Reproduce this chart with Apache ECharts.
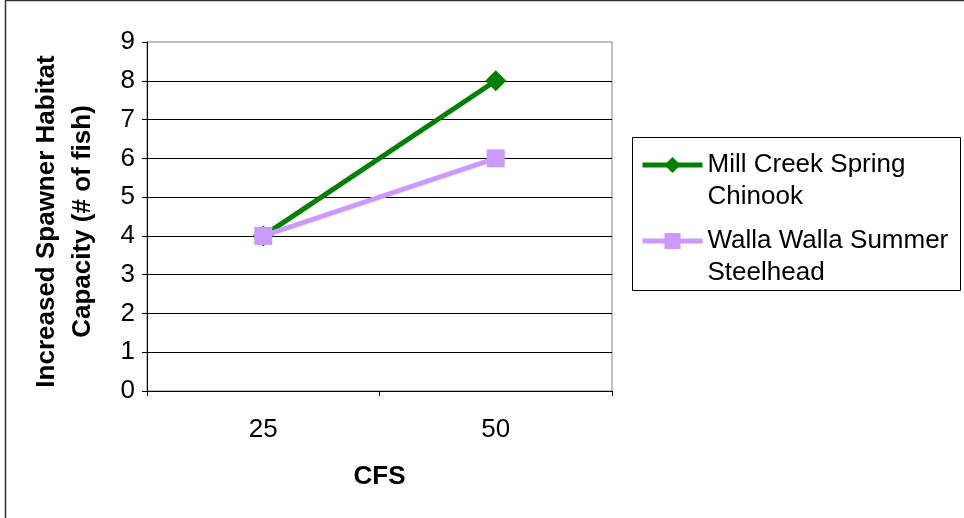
<!DOCTYPE html>
<html>
<head>
<meta charset="utf-8">
<script src="https://cdn.jsdelivr.net/npm/echarts@6/dist/echarts.min.js"></script>
<style>
  html, body { margin: 0; padding: 0; background: #fff; }
  #chart { width: 964px; height: 518px; }
</style>
</head>
<body>
<div id="chart"></div>
<script>
// Flow levels (CFS) and the added spawner capacity for each run
const categories = ['25', '50'];
const millCreekSpringChinook = [4, 8];
const wallaWallaSummerSteelhead = [4, 6];

const seriesNames = ['Mill Creek Spring Chinook', 'Walla Walla Summer Steelhead'];
// Leading blank line keeps the first text line level with the legend icon
const legendLabels = {
  'Mill Creek Spring Chinook': ' \nMill Creek Spring\nChinook',
  'Walla Walla Summer Steelhead': ' \nWalla Walla Summer\nSteelhead'
};

const FONT = 'Liberation Sans, Arial, sans-serif';
const FS = 26;
const GREEN = '#008000';
const PURPLE = '#CC99FF';

const chart = echarts.init(document.getElementById('chart'), null, { renderer: 'canvas' });

function legendFor(name, top) {
  return {
    data: [name],
    left: 640,
    top: top,
    padding: 0,
    itemWidth: 60,
    itemHeight: 20,
    orient: 'vertical',
    selectedMode: false,
    lineStyle: { width: 5 },
    formatter: n => legendLabels[n],
    textStyle: {
      fontFamily: FONT,
      fontSize: FS,
      color: '#000',
      lineHeight: 32
    }
  };
}

chart.setOption({
  animation: false,
  backgroundColor: '#fff',
  grid: {
    left: 147,
    right: 352,
    top: 42,
    bottom: 127,
    show: true,
    borderColor: '#808080',
    borderWidth: 1,
    backgroundColor: 'transparent'
  },
  graphic: [
    {
      type: 'rect',
      shape: { x: 5.5, y: 0.5, width: 2000, height: 2000 },
      style: { fill: 'none', stroke: '#333', lineWidth: 1.5 },
      silent: true,
      z: 100
    },
    {
      type: 'rect',
      shape: { x: 632.5, y: 137.5, width: 328, height: 153 },
      style: { fill: 'none', stroke: '#000', lineWidth: 1 },
      silent: true,
      z: 100
    }
  ],
  legend: [
    legendFor(seriesNames[0], 117),
    legendFor(seriesNames[1], 193)
  ],
  xAxis: {
    type: 'category',
    data: categories,
    boundaryGap: true,
    name: 'CFS',
    nameLocation: 'middle',
    nameGap: 73,
    nameTextStyle: { fontFamily: FONT, fontSize: FS, fontWeight: 'bold', color: '#000' },
    axisLine: { show: true, lineStyle: { color: '#000', width: 1 } },
    axisTick: { show: true, alignWithLabel: false, length: 5, lineStyle: { color: '#000' } },
    axisLabel: { fontFamily: FONT, fontSize: FS, color: '#000', margin: 26 },
    splitLine: { show: false }
  },
  yAxis: {
    type: 'value',
    min: 0,
    max: 9,
    interval: 1,
    name: 'Increased Spawner Habitat\nCapacity (# of fish)',
    nameLocation: 'middle',
    nameRotate: 90,
    nameGap: 46,
    nameTextStyle: { fontFamily: FONT, fontSize: FS, fontWeight: 'bold', color: '#000', lineHeight: 36, padding: [0, 10, 0, 0] },
    axisLine: { show: true, lineStyle: { color: '#000', width: 1 } },
    axisTick: { show: true, length: 5, lineStyle: { color: '#000' } },
    axisLabel: { fontFamily: FONT, fontSize: FS, color: '#000', margin: 12 },
    splitLine: { show: true, showMinLine: false, showMaxLine: false, lineStyle: { color: '#000', width: 1 } }
  },
  series: [
    {
      name: seriesNames[0],
      type: 'line',
      data: millCreekSpringChinook,
      color: GREEN,
      lineStyle: { color: GREEN, width: 5 },
      symbol: 'diamond',
      symbolSize: 21,
      itemStyle: { color: GREEN },
      z: 2
    },
    {
      name: seriesNames[1],
      type: 'line',
      data: wallaWallaSummerSteelhead,
      color: PURPLE,
      lineStyle: { color: PURPLE, width: 5 },
      symbol: 'rect',
      symbolSize: 18,
      itemStyle: { color: PURPLE },
      z: 3
    }
  ]
});
</script>
</body>
</html>
